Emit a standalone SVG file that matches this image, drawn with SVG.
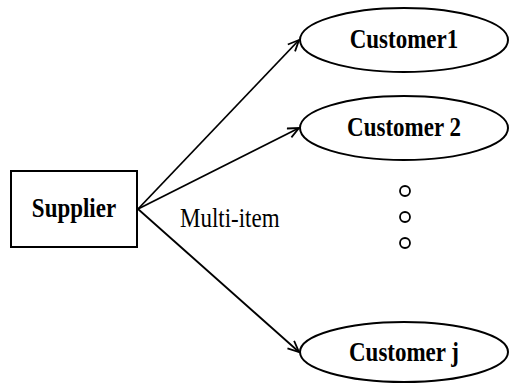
<svg xmlns="http://www.w3.org/2000/svg" width="510" height="384" viewBox="0 0 510 384">
<style>
.shape{fill:#fff;stroke:#000;stroke-width:2}
.edge{fill:none;stroke:#000;stroke-width:1.8}
.lbl{font-family:"Liberation Serif",serif;font-size:23px;font-weight:bold;text-anchor:middle;fill:#000}
.el{font-family:"Liberation Serif",serif;font-size:23px;fill:#000}
.dot{fill:#fff;stroke:#000;stroke-width:1.8}
</style>
<defs>
<marker id="arr" markerUnits="userSpaceOnUse" markerWidth="14" markerHeight="14" refX="12" refY="6" orient="auto">
<path d="M1,1 L12,6 L1,11" fill="none" stroke="#000" stroke-width="1.8"/>
</marker>
</defs>
<g id="connectors">
<line class="edge" x1="138" y1="209" x2="299" y2="40" marker-end="url(#arr)"/>
<line class="edge" x1="138" y1="209" x2="299" y2="128" marker-end="url(#arr)"/>
<line class="edge" x1="138" y1="209" x2="299" y2="352" marker-end="url(#arr)"/>
<text class="el" transform="translate(180,227) scale(1,1.15)">Multi-item</text>
</g>
<g id="supplier">
<rect class="shape" x="11" y="171" width="126" height="76"/>
<text class="lbl" transform="translate(74,217) scale(1,1.15)">Supplier</text>
</g>
<g id="customer1">
<ellipse class="shape" cx="404" cy="40" rx="104" ry="32"/>
<text class="lbl" transform="translate(404,48) scale(1,1.15)">Customer1</text>
</g>
<g id="customer2">
<ellipse class="shape" cx="404" cy="128" rx="104" ry="32"/>
<text class="lbl" transform="translate(404,136) scale(1,1.15)">Customer 2</text>
</g>
<g id="dots">
<circle class="dot" cx="405" cy="191" r="5"/>
<circle class="dot" cx="405" cy="217" r="5"/>
<circle class="dot" cx="405" cy="243" r="5"/>
</g>
<g id="customerj">
<ellipse class="shape" cx="404" cy="352" rx="104" ry="30"/>
<text class="lbl" transform="translate(404,361) scale(1,1.15)">Customer j</text>
</g>
</svg>
